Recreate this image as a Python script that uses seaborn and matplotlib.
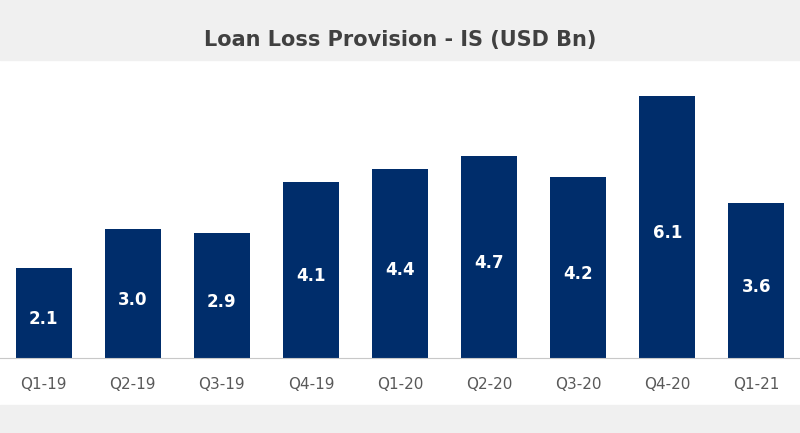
import matplotlib
matplotlib.use("Agg")
import matplotlib.pyplot as plt
import seaborn as sns
import pandas as pd
from matplotlib.patches import Rectangle

quarters = ["Q1-19", "Q2-19", "Q3-19", "Q4-19", "Q1-20", "Q2-20", "Q3-20", "Q4-20", "Q1-21"]
values = [2.1, 3.0, 2.9, 4.1, 4.4, 4.7, 4.2, 6.1, 3.6]
df = pd.DataFrame({"q": quarters, "v": values})

fig = plt.figure(figsize=(8, 4.33), dpi=100, facecolor="white")
fig.patches.append(Rectangle((0, 1 - 60/433), 1, 60/433, transform=fig.transFigure, color="#f0f0f0", zorder=0))
fig.patches.append(Rectangle((0, 0), 1, 28/433, transform=fig.transFigure, color="#f0f0f0", zorder=0))
fig.text(0.5, 1 - 40/433, "Loan Loss Provision - IS (USD Bn)", ha="center", va="center",
         fontsize=15, fontweight="bold", color="#404040", family="DejaVu Sans")

ax = fig.add_axes([0, 1 - 358/433, 1, (358 - 60)/433])
sns.barplot(data=df, x="q", y="v", color="#002d6b", width=0.63, saturation=1, ax=ax)
ax.set_ylim(0, 6.93)
ax.set_xlim(-0.49, 8.49)
for i, v in enumerate(values):
    ax.text(i, v / 2 - 0.15, f"{v:.1f}", ha="center", va="center", color="white",
            fontsize=12, fontweight="bold")
ax.set_xlabel(""); ax.set_ylabel("")
ax.set_yticks([])
for s in ["top", "left", "right"]:
    ax.spines[s].set_visible(False)
ax.spines["bottom"].set_color("#c8c8c8")
ax.tick_params(axis="x", length=0, pad=14, labelsize=11, labelcolor="#595959")
fig.savefig("out.png", dpi=100, facecolor="white")
